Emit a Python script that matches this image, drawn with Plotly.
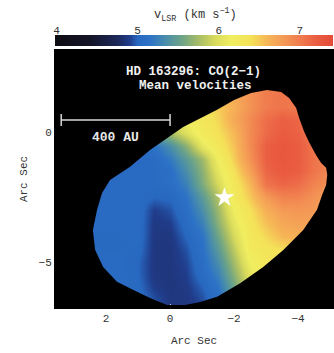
import plotly.graph_objects as go

# ---------------- data ----------------
# velocity map grid (arcsec offsets); x runs east->west as plotted (decreasing)
grid_x = [3.5, 3.0, 2.5, 2.0, 1.5, 1.0, 0.5, 0.0, -0.5, -1.0, -1.5, -2.0, -2.5, -3.0, -3.5, -4.0, -4.5, -5.0]
grid_y = [3.0, 2.5, 2.0, 1.5, 1.0, 0.5, 0.0, -0.5, -1.0, -1.5, -2.0, -2.5, -3.0, -3.5, -4.0, -4.5, -5.0, -5.5, -6.0, -6.5, -7.0]
v_row_p3_0 = [5.1, 5.1, 5.2, 5.3, 5.4, 5.6, 5.9, 6.1, 6.3, 6.4, 6.55, 6.7, 6.85, 6.95, 7.0, 6.95, 6.9, 6.9]
v_row_p2_5 = [5.1, 5.1, 5.2, 5.3, 5.4, 5.6, 5.9, 6.1, 6.3, 6.4, 6.55, 6.7, 6.85, 6.95, 7.0, 6.95, 6.9, 6.9]
v_row_p2_0 = [5.1, 5.1, 5.2, 5.3, 5.4, 5.6, 5.9, 6.1, 6.3, 6.4, 6.55, 6.7, 6.85, 6.95, 7.0, 6.95, 6.9, 6.9]
v_row_p1_5 = [5.1, 5.1, 5.2, 5.3, 5.4, 5.6, 5.9, 6.1, 6.3, 6.4, 6.55, 6.7, 6.85, 7.0, 7.05, 7.0, 6.9, 6.9]
v_row_p1_0 = [5.1, 5.1, 5.2, 5.3, 5.4, 5.6, 5.9, 6.1, 6.25, 6.35, 6.5, 6.65, 6.85, 7.0, 7.05, 7.0, 6.9, 6.9]
v_row_p0_5 = [5.1, 5.1, 5.1, 5.2, 5.3, 5.5, 5.75, 5.95, 6.15, 6.3, 6.45, 6.7, 6.9, 7.1, 7.2, 7.15, 6.95, 6.9]
v_row_0_0 = [5.05, 5.05, 5.05, 5.1, 5.2, 5.35, 5.5, 5.75, 6.0, 6.25, 6.4, 6.6, 6.9, 7.12, 7.22, 7.18, 7.0, 6.9]
v_row_m0_5 = [5.05, 5.05, 5.05, 5.05, 5.05, 5.05, 5.15, 5.35, 5.65, 6.05, 6.3, 6.55, 6.9, 7.2, 7.27, 7.22, 7.05, 6.95]
v_row_m1_0 = [5.05, 5.05, 5.05, 5.05, 5.05, 5.05, 5.05, 5.2, 5.45, 5.72, 6.15, 6.5, 6.85, 7.2, 7.27, 7.22, 7.05, 6.95]
v_row_m1_5 = [5.05, 5.05, 5.05, 5.05, 5.05, 5.05, 5.05, 5.1, 5.35, 5.65, 6.05, 6.4, 6.75, 7.15, 7.25, 7.2, 7.05, 6.9]
v_row_m2_0 = [5.05, 5.05, 5.05, 5.05, 5.05, 5.05, 5.05, 5.08, 5.25, 5.6, 5.95, 6.32, 6.6, 7.05, 7.15, 7.1, 6.95, 6.85]
v_row_m2_5 = [5.05, 5.05, 5.05, 5.05, 5.05, 5.05, 5.0, 5.02, 5.15, 5.45, 5.8, 6.25, 6.52, 6.8, 6.95, 6.95, 6.85, 6.75]
v_row_m3_0 = [5.05, 5.05, 5.05, 5.05, 5.05, 5.05, 4.9, 4.95, 5.1, 5.35, 5.72, 6.15, 6.4, 6.65, 6.8, 6.82, 6.8, 6.75]
v_row_m3_5 = [5.05, 5.05, 5.05, 5.05, 5.05, 5.05, 4.88, 4.9, 5.05, 5.25, 5.65, 6.05, 6.35, 6.55, 6.7, 6.75, 6.75, 6.75]
v_row_m4_0 = [5.03, 5.03, 5.03, 5.03, 5.03, 5.05, 4.87, 4.87, 5.0, 5.15, 5.55, 5.95, 6.3, 6.45, 6.6, 6.65, 6.65, 6.65]
v_row_m4_5 = [5.03, 5.03, 5.03, 5.03, 5.03, 5.03, 4.87, 4.86, 4.95, 5.12, 5.45, 5.85, 6.25, 6.35, 6.42, 6.45, 6.45, 6.45]
v_row_m5_0 = [5.05, 5.05, 5.05, 5.05, 5.05, 5.0, 4.87, 4.86, 4.92, 5.08, 5.35, 5.75, 6.15, 6.3, 6.35, 6.35, 6.35, 6.35]
v_row_m5_5 = [5.05, 5.05, 5.05, 5.05, 5.05, 5.0, 4.87, 4.86, 4.9, 5.05, 5.25, 5.65, 6.05, 6.3, 6.3, 6.3, 6.3, 6.3]
v_row_m6_0 = [5.05, 5.05, 5.05, 5.05, 5.05, 5.02, 4.9, 4.86, 4.88, 4.98, 5.15, 5.55, 5.95, 6.2, 6.25, 6.25, 6.25, 6.25]
v_row_m6_5 = [5.05, 5.05, 5.05, 5.05, 5.05, 5.05, 4.95, 4.87, 4.87, 4.93, 5.1, 5.45, 5.85, 6.1, 6.2, 6.2, 6.2, 6.2]
v_row_m7_0 = [5.05, 5.05, 5.05, 5.05, 5.05, 5.05, 4.95, 4.87, 4.87, 4.93, 5.1, 5.45, 5.85, 6.1, 6.2, 6.2, 6.2, 6.2]

# outline of the detected emission (arcsec)
disk_x = [2.28, 2.125, 1.875, 1.25, 0.625, -0.41, -1.47, -2.0, -2.53, -3.03, -3.47, -3.72, -3.94, -4.03,
          -4.19, -4.34, -4.56, -4.72, -4.875, -4.91, -4.875, -4.75, -4.59, -4.16, -3.53, -2.91, -2.19,
          -1.47, -0.94, -0.47, 0.09, 0.625, 1.16, 1.66, 2.09, 2.34, 2.41]
disk_y = [-2.98, -2.33, -1.83, -1.32, -0.67, 0.22, 0.88, 1.26, 1.53, 1.65, 1.57, 1.34, 0.95, 0.57,
          0.03, -0.36, -0.86, -1.17, -1.36, -1.63, -2.02, -2.41, -2.98, -3.76, -4.54, -5.19, -5.81,
          -6.34, -6.54, -6.65, -6.65, -6.38, -6.07, -5.76, -5.19, -4.53, -3.76]

star_x = [-1.7]
star_y = [-2.5]

scalebar_x = [3.4, 0.0]
scalebar_y = 0.49
scalebar_label = "400 AU"

cbar_min, cbar_max = 3.98, 7.41
cbar_ticks = [4, 5, 6, 7]
x_range = [3.594, -5.09]
y_range = [-6.77, 3.19]

# colour table (velocity -> colour)
cs_vel = [3.98, 4.4, 4.75, 4.9, 5.0, 5.15, 5.35, 5.55, 5.75, 5.95, 6.15, 6.4, 6.6, 6.8, 7.0, 7.2, 7.41]
cs_col = ["#0e0c12", "#141426", "#1c2858", "#203c8a", "#2868c0", "#2c72c6", "#4a8eaa", "#6ea486",
          "#a6bc66", "#d8da5c", "#f0ee60", "#f4e258", "#f6b656", "#f49a56", "#f07c4e", "#ea5e42", "#e44a38"]

# ---------------- figure ----------------
z_rows = [v_row_p3_0, v_row_p2_5, v_row_p2_0, v_row_p1_5, v_row_p1_0, v_row_p0_5, v_row_0_0,
          v_row_m0_5, v_row_m1_0, v_row_m1_5, v_row_m2_0, v_row_m2_5, v_row_m3_0, v_row_m3_5,
          v_row_m4_0, v_row_m4_5, v_row_m5_0, v_row_m5_5, v_row_m6_0, v_row_m6_5, v_row_m7_0]
colorscale = [[(v - cbar_min) / (cbar_max - cbar_min), c] for v, c in zip(cs_vel, cs_col)]

MONO = "Liberation Mono, Courier New, monospace"

fig = go.Figure()
fig.add_trace(go.Heatmap(
    x=grid_x, y=grid_y, z=z_rows, zsmooth="best",
    colorscale=colorscale, zmin=cbar_min, zmax=cbar_max,
    colorbar=dict(orientation="h", x=0, xanchor="left", len=1, lenmode="fraction",
                  y=0.8733, yanchor="bottom", thickness=11, xpad=0, ypad=0,
                  outlinewidth=0, showticklabels=False, ticks=""),
    hoverinfo="skip",
))
fig.add_trace(go.Scatter(x=star_x, y=star_y, mode="markers",
                         marker=dict(symbol="star", size=15, color="white", line=dict(width=0)),
                         hoverinfo="skip", showlegend=False))
# carrier for the colour-bar tick axis
fig.add_trace(go.Scatter(x=cbar_ticks, y=[0] * len(cbar_ticks), xaxis="x2", yaxis="y2",
                         mode="markers", marker=dict(opacity=0), hoverinfo="skip", showlegend=False))

# black mask outside the emission outline
big = 50
outline = "M " + " L ".join(f"{x},{y}" for x, y in zip(disk_x, disk_y)) + " Z"
outer = f"M {big},{big} L {-big},{big} L {-big},{-big} L {big},{-big} Z"
shapes = [dict(type="path", path=outline + " " + outer, xref="x", yref="y",
               fillcolor="black", fillrule="evenodd", line=dict(width=0), layer="above")]
# scale bar
shapes.append(dict(type="line", xref="x", yref="y", x0=scalebar_x[0], x1=scalebar_x[1],
                   y0=scalebar_y, y1=scalebar_y, line=dict(color="#d8d8d8", width=1.5)))
for sx in scalebar_x:
    shapes.append(dict(type="line", xref="x", yref="y", x0=sx, x1=sx,
                       y0=scalebar_y - 0.23, y1=scalebar_y + 0.23, line=dict(color="#d8d8d8", width=1.5)))

annotations = [
    dict(x=-0.72, y=2.33, xref="x", yref="y", text="HD 163296: CO(2−1)", showarrow=False,
         font=dict(family=MONO, size=12.5, color="#f0f0f0", weight="bold")),
    dict(x=-0.78, y=1.8, xref="x", yref="y", text="Mean velocities", showarrow=False,
         font=dict(family=MONO, size=12.5, color="#f0f0f0", weight="bold")),
    dict(x=(scalebar_x[0] + scalebar_x[1]) / 2, y=scalebar_y - 0.68, xref="x", yref="y",
         text=scalebar_label, showarrow=False,
         font=dict(family=MONO, size=13, color="#e8e8e8", weight="bold")),
    dict(x=0.504, y=0.978, xref="paper", yref="paper", yanchor="middle",
         text="v<sub>LSR</sub> (km s<sup>−1</sup>)", showarrow=False,
         font=dict(family=MONO, size=12, color="#333")),
]

axis_common = dict(showgrid=False, zeroline=False, ticks="inside", ticklen=4, tickwidth=1,
                   tickcolor="#d0d0d0", mirror="ticks", showline=True, linecolor="black",
                   tickfont=dict(family=MONO, size=11, color="#333"))

fig.update_layout(
    width=334, height=353,
    margin=dict(l=55, r=1, t=8, b=45),
    paper_bgcolor="white", plot_bgcolor="black",
    showlegend=False,
    shapes=shapes, annotations=annotations,
    xaxis=dict(range=x_range, dtick=2, tick0=0, domain=[0, 1], anchor="y",
               minor=dict(dtick=1, ticks="inside", ticklen=4, tickcolor="#d0d0d0"),
               title=dict(text="Arc Sec", font=dict(family=MONO, size=11, color="#333"), standoff=12),
               **axis_common),
    yaxis=dict(range=y_range, dtick=5, tick0=0, domain=[0, 0.86], anchor="x",
               minor=dict(dtick=1, ticks="inside", ticklen=4, tickcolor="#d0d0d0"),
               title=dict(text="Arc Sec", font=dict(family=MONO, size=11, color="#333"), standoff=8),
               **axis_common),
    xaxis2=dict(range=[cbar_min, cbar_max], domain=[0, 1], anchor="y2", side="top",
                tickvals=cbar_ticks, ticks="", showline=False, showgrid=False, zeroline=False,
                tickfont=dict(family=MONO, size=11, color="#333")),
    yaxis2=dict(range=[0, 1], domain=[0.88, 0.9033], anchor="x2", visible=False),
)

fig.write_html("out.html")
